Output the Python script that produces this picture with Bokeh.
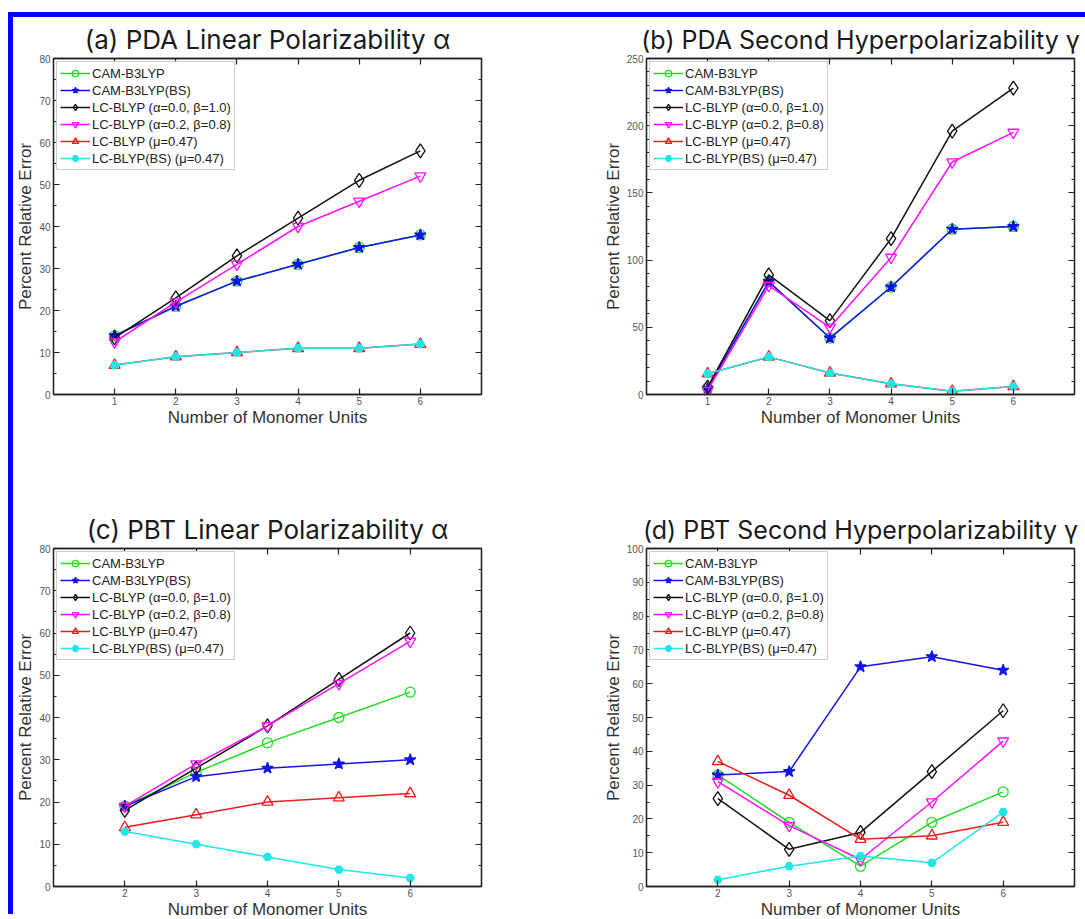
from bokeh.plotting import figure
from bokeh.models import (Range1d, LinearAxis, FixedTicker, SingleIntervalTicker,
                          Legend, LegendItem, Div)
from bokeh.layouts import row, column
from bokeh.embed import file_html
from bokeh.resources import INLINE

# ---------------- data ----------------
series_labels = ["CAM-B3LYP", "CAM-B3LYP(BS)", "LC-BLYP (α=0.0, β=1.0)",
                 "LC-BLYP (α=0.2, β=0.8)", "LC-BLYP (μ=0.47)", "LC-BLYP(BS) (μ=0.47)"]

monomers_pda = [1, 2, 3, 4, 5, 6]
monomers_pbt = [2, 3, 4, 5, 6]

# (a) PDA linear polarizability
a_cam = [14, 21, 27, 31, 35, 38]
a_cam_bs = [14, 21, 27, 31, 35, 38]
a_lc00 = [13.5, 23, 33, 42, 51, 58]
a_lc02 = [12.5, 22, 31, 40, 46, 52]
a_lc047 = [7, 9, 10, 11, 11, 12]
a_lcbs = [7, 9, 10, 11, 11, 12]

# (b) PDA second hyperpolarizability
b_cam = [5, 84, 42, 80, 123, 125]
b_cam_bs = [4.5, 84, 42, 80, 123, 125]
b_lc00 = [5.5, 89, 55, 116, 196, 228]
b_lc02 = [3, 81, 50, 102, 173, 195]
b_lc047 = [15.5, 28, 16, 8, 2.5, 6]
b_lcbs = [15.5, 28, 16, 8, 2.5, 6]

# (c) PBT linear polarizability
c_cam = [19, 27, 34, 40, 46]
c_cam_bs = [19, 26, 28, 29, 30]
c_lc00 = [18, 28, 38, 49, 60]
c_lc02 = [19, 29, 38, 48, 58]
c_lc047 = [14, 17, 20, 21, 22]
c_lcbs = [13, 10, 7, 4, 2]

# (d) PBT second hyperpolarizability
d_cam = [33, 19, 6, 19, 28]
d_cam_bs = [33, 34, 65, 68, 64]
d_lc00 = [26, 11, 16, 34, 52]
d_lc02 = [31, 18, 8, 25, 43]
d_lc047 = [37, 27, 14, 15, 19]
d_lcbs = [2, 6, 9, 7, 22]

titles = ["(a) PDA Linear Polarizability α", "(b) PDA Second Hyperpolarizability γ",
          "(c) PBT Linear Polarizability α", "(d) PBT Second Hyperpolarizability γ"]
x_label = "Number of Monomer Units"
y_label = "Percent Relative Error"

# ---------------- styles ----------------
STYLES = [
    dict(color="#22dd22", marker="circle", size=10, fill=None),
    dict(color="#1414e6", marker="star", size=12, fill="#1414e6"),
    dict(color="#111111", marker="diamond", size=14, fill=None),
    dict(color="#ff10ff", marker="inverted_triangle", size=11, fill=None),
    dict(color="#ee1c1c", marker="triangle", size=11, fill=None),
    dict(color="#22e6e6", marker="hex", size=8, fill="#22e6e6"),
]
AX = "#222222"
TICK_LBL = "#555555"
LBL = "#333333"


def style_axis(ax, show_labels=True, minor=True):
    ax.axis_line_color = AX
    ax.axis_line_width = 1.3
    ax.major_tick_line_color = AX
    ax.major_tick_line_width = 1.2
    ax.major_tick_in = 6
    ax.major_tick_out = 0
    ax.minor_tick_in = 3
    ax.minor_tick_out = 0
    ax.minor_tick_line_color = AX if minor else None
    ax.minor_tick_line_width = 1.0
    if show_labels:
        ax.major_label_text_font = "Liberation Sans"
        ax.major_label_text_font_size = "10px"
        ax.major_label_text_color = TICK_LBL
        ax.major_label_standoff = 3
    else:
        ax.major_label_text_font_size = "0px"
        ax.major_label_text_color = None
        ax.major_label_standoff = 0


def panel(title, xs, ys, xr, xt, yr, ystep, nminor, left, right, top, bottom, fh, tsize):
    p = figure(frame_width=428, frame_height=fh,
               x_range=Range1d(*xr), y_range=Range1d(*yr),
               min_border_left=left, min_border_right=right,
               min_border_top=top, min_border_bottom=bottom,
               output_backend="svg", toolbar_location=None, title=title)
    p.background_fill_color = "white"
    p.border_fill_color = "white"
    p.title.align = "center"
    p.title.text_font = "Inter"
    p.title.text_font_size = tsize
    p.title.text_font_style = "normal"
    p.title.text_color = "#1a1a1a"
    p.title.standoff = 8
    p.xgrid.visible = False
    p.ygrid.visible = False
    p.outline_line_color = AX
    p.outline_line_width = 1.3

    xa = p.xaxis[0]
    xa.ticker = FixedTicker(ticks=xt)
    style_axis(xa, True, minor=False)
    xa.major_label_standoff = 2
    xa.axis_label = x_label
    xa.axis_label_text_font = "Liberation Sans"
    xa.axis_label_text_font_size = "17px"
    xa.axis_label_text_font_style = "normal"
    xa.axis_label_text_color = LBL
    xa.axis_label_standoff = 0

    ya = p.yaxis[0]
    ya.ticker = SingleIntervalTicker(interval=ystep, num_minor_ticks=nminor)
    style_axis(ya, True, minor=True)
    ya.axis_label = y_label
    ya.axis_label_text_font = "Liberation Sans"
    ya.axis_label_text_font_size = "17px"
    ya.axis_label_text_font_style = "normal"
    ya.axis_label_text_color = LBL
    ya.axis_label_standoff = 1

    ta = LinearAxis(ticker=FixedTicker(ticks=xt))
    style_axis(ta, False, minor=False)
    p.add_layout(ta, "above")
    ra = LinearAxis(ticker=SingleIntervalTicker(interval=ystep, num_minor_ticks=nminor))
    style_axis(ra, False, minor=True)
    p.add_layout(ra, "right")

    items = []
    for lbl, y, st in zip(series_labels, ys, STYLES):
        rl = p.line(xs, y, line_color=st["color"], line_width=1.5)
        rs = p.scatter(xs, y, marker=st["marker"], size=st["size"],
                       line_color=st["color"], fill_color=st["fill"], line_width=1.3)
        items.append(LegendItem(label=lbl, renderers=[rl, rs]))
    leg = Legend(items=items, location="top_left")
    leg.margin = 3
    leg.padding = 3
    leg.spacing = 1
    leg.glyph_width = 30
    leg.glyph_height = 16
    leg.label_height = 16
    leg.label_standoff = 2
    leg.label_text_font = "Liberation Sans"
    leg.label_text_font_size = "13px"
    leg.label_text_color = "#222222"
    leg.border_line_color = "#999999"
    leg.border_line_width = 1
    leg.background_fill_color = "white"
    leg.background_fill_alpha = 1.0
    p.add_layout(leg)
    return p


pa = panel(titles[0], monomers_pda, [a_cam, a_cam_bs, a_lc00, a_lc02, a_lc047, a_lcbs],
           (0, 7), monomers_pda, (0, 80), 10, 2, 39, 60, 41, 40, 336, "26px")
pb = panel(titles[1], monomers_pda, [b_cam, b_cam_bs, b_lc00, b_lc02, b_lc047, b_lcbs],
           (0, 7), monomers_pda, (0, 250), 50, 5, 105, 12, 41, 40, 336, "25px")
pc = panel(titles[2], monomers_pbt, [c_cam, c_cam_bs, c_lc00, c_lc02, c_lc047, c_lcbs],
           (1, 7), monomers_pbt, (0, 80), 10, 2, 39, 60, 114, 20, 338, "26px")
pd = panel(titles[3], monomers_pbt, [d_cam, d_cam_bs, d_lc00, d_lc02, d_lc047, d_lcbs],
           (1, 7), monomers_pbt, (0, 100), 10, 2, 105, 12, 114, 20, 338, "25px")

grid = column(row(pa, pb, spacing=0), row(pc, pd, spacing=0), spacing=0)
top_bar = Div(text="", width=1072, height=5, margin=0, styles={"background-color": "#0000ff"})
left_bar = Div(text="", width=5, height=902, margin=0, styles={"background-color": "#0000ff"})
left_gap = Div(text="", width=8, height=10, margin=0)
top_gap = Div(text="", width=10, height=12, margin=0)

layout = column(top_gap,
                row(left_gap, left_bar, column(top_bar, grid, spacing=0), spacing=0),
                spacing=0)

open("out.html", "w").write(file_html(layout, INLINE))
